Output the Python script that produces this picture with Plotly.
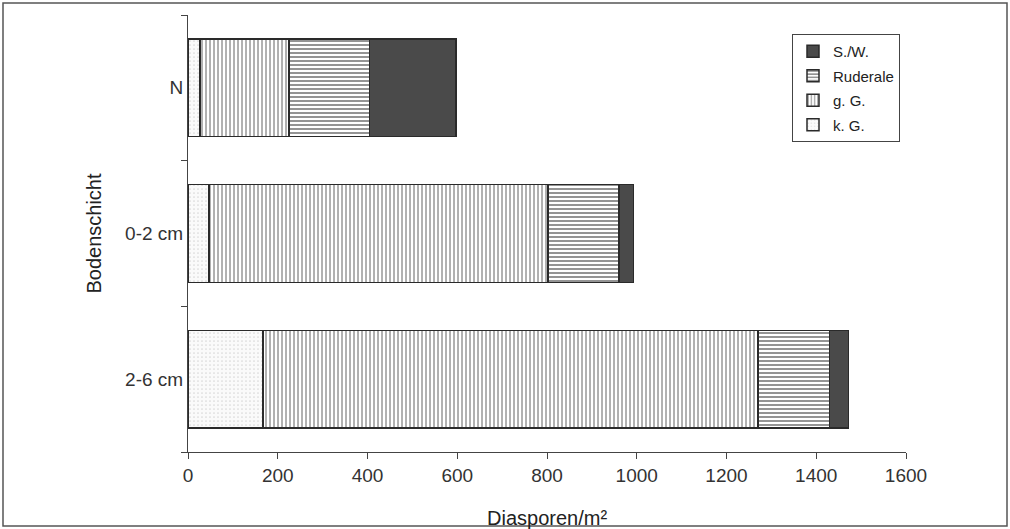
import plotly.graph_objects as go

categories = ["N", "0-2 cm", "2-6 cm"]
kG = [27, 47, 167]
gG = [198, 755, 1103]
ruderale = [180, 158, 160]
sw = [192, 33, 42]

series_names = ["k. G.", "g. G.", "Ruderale", "S./W."]
x_title = "Diasporen/m²"
y_title = "Bodenschicht"

fig = go.Figure()
line = dict(color="#2a2a2a", width=1.5)
fig.add_trace(go.Bar(y=categories, x=kG, name=series_names[0], orientation="h", legendgroup="a", legendrank=4,
                     marker=dict(color="#f7f7f5", line=line,
                                 pattern=dict(shape=".", fgcolor="#b8b8b8", bgcolor="#fafafa", size=4, solidity=0.15))))
fig.add_trace(go.Bar(y=categories, x=gG, name=series_names[1], orientation="h", legendgroup="b", legendrank=3,
                     marker=dict(color="white", line=line,
                                 pattern=dict(shape="|", fgcolor="#3a3a3a", bgcolor="white", size=4, solidity=0.4))))
fig.add_trace(go.Bar(y=categories, x=ruderale, name=series_names[2], orientation="h", legendgroup="c", legendrank=2,
                     marker=dict(color="white", line=line,
                                 pattern=dict(shape="-", fgcolor="#2a2a2a", bgcolor="white", size=4, solidity=0.5))))
fig.add_trace(go.Bar(y=categories, x=sw, name=series_names[3], orientation="h", legendgroup="d", legendrank=1,
                     marker=dict(color="#4a4a4a", line=line)))

fig.update_layout(
    barmode="stack",
    bargap=0.33,
    width=1010, height=529,
    margin=dict(l=188, r=104, t=15, b=77, autoexpand=False),
    paper_bgcolor="white", plot_bgcolor="white",
    font=dict(family="Liberation Sans, Arial, sans-serif", color="#333", size=20),
    legend=dict(x=(900 - 188) / 718, y=(452 - 34) / 437, xanchor="right", yanchor="top",
                traceorder="grouped", tracegroupgap=2,
                bordercolor="#444", borderwidth=1, bgcolor="white",
                font=dict(size=15, color="#222"), itemwidth=30),
    xaxis=dict(range=[0, 1600], dtick=200, showline=True, linecolor="#444", linewidth=1,
               ticks="outside", ticklen=6, tickcolor="#444", showgrid=False, zeroline=False,
               tickfont=dict(size=19), automargin=False),
    yaxis=dict(categoryorder="array", categoryarray=categories[::-1], showline=True,
               linecolor="#444", linewidth=1, ticks="outside", ticklen=6, tickcolor="#444",
               tickson="boundaries", showgrid=False, tickfont=dict(size=19), automargin=False,
               title=dict(text=y_title, font=dict(size=20, color="#222"), standoff=18)),
)

fig.add_annotation(text=x_title, xref="paper", yref="paper", x=0.5, y=(452 - 518) / 437,
                   xanchor="center", yanchor="middle", showarrow=False,
                   font=dict(size=20, color="#222"))

fig.add_shape(type="rect", xref="paper", yref="paper",
              x0=(3 - 188) / 718, x1=(1007 - 188) / 718,
              y0=(452 - 526) / 437, y1=(452 - 3) / 437,
              line=dict(color="#555", width=1.5))

fig.write_html("out.html", config={"displayModeBar": False},
               post_script="document.body.style.margin='0px';")
